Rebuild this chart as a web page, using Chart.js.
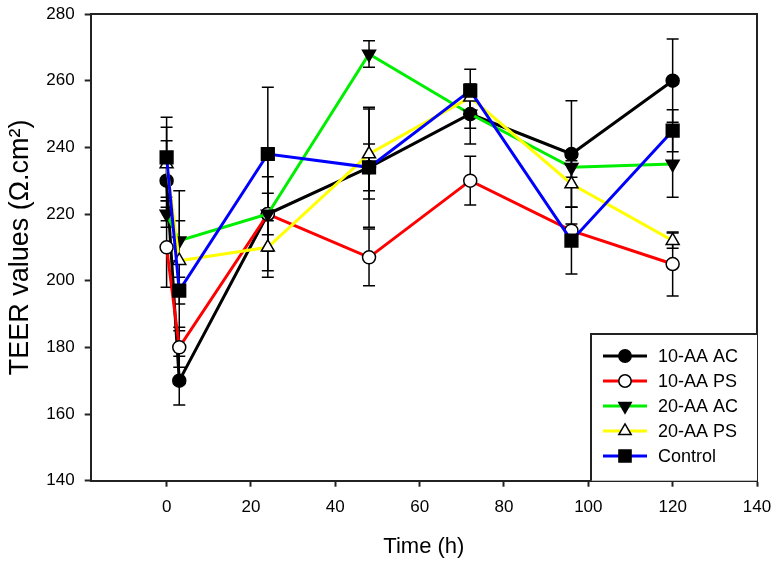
<!DOCTYPE html>
<html>
<head>
<meta charset="utf-8">
<script src="https://cdn.jsdelivr.net/npm/chart.js@4"></script>
<style>
  body { margin: 0; background: #fff; }
  #wrap { width: 779px; height: 565px; }
</style>
</head>
<body>
<div id="wrap"><canvas id="teerChart" width="779" height="565"></canvas></div>
<script>
// time points (h)
var times = [0, 3, 24, 48, 72, 96, 120];
var xTicks = [0, 20, 40, 60, 80, 100, 120, 140];
var yTicks = [140, 160, 180, 200, 220, 240, 260, 280];

var labels = ['10-AA AC', '10-AA PS', '20-AA AC', '20-AA PS', 'Control'];

// TEER values
var aa10AC = [230, 170, 220, 234, 250, 238, 260];
var aa10PS = [210, 180, 220, 207, 230, 215, 205];
var aa20AC = [220, 212, 220, 268, 250, 234, 235];
var aa20PS = [235, 206, 210, 238, 255, 229, 212];
var control = [237, 197, 238, 234, 257, 212, 245];

// error bars (+/-)
var err10AC = [12, 7.3, 6.2, 18, 4.3, 16, 12.5];
var err10PS = [12, 6, 11.2, 8.5, 7.3, 2, 9.6];
var err20AC = [4, 6, 17, 4, 9, 3, 10];
var err20PS = [11, 21, 9, 13.5, 3.7, 7, 2.3];
var errCtrl = [12, 4, 20, 7, 6.4, 10, 6.3];

function pts(vals) {
    return vals.map(function (v, i) { return {x: times[i], y: v}; });
}

function makeSet(label, vals, errs, color, style, fill, rot, radius, order) {
    return {
        label: label,
        data: pts(vals),
        errors: errs,
        borderColor: color,
        backgroundColor: color,
        borderWidth: 3,
        pointStyle: style,
        pointRotation: rot,
        pointRadius: radius,
        pointBackgroundColor: fill,
        pointBorderColor: '#000',
        pointBorderWidth: 1.5,
        tension: 0,
        order: order
    };
}

var errorBars = {
    id: 'errorBars',
    beforeDatasetsDraw: function (chart) {
        var c = chart.ctx;
        var xs = chart.scales.x, ys = chart.scales.y;
        c.save();
        c.strokeStyle = '#000';
        c.lineWidth = 1.5;
        chart.data.datasets.forEach(function (ds) {
            ds.data.forEach(function (p, i) {
                var e = ds.errors[i];
                var px = xs.getPixelForValue(p.x);
                var top = ys.getPixelForValue(p.y + e);
                var bot = ys.getPixelForValue(p.y - e);
                c.beginPath();
                c.moveTo(px, top); c.lineTo(px, bot);
                c.moveTo(px - 6, top); c.lineTo(px + 6, top);
                c.moveTo(px - 6, bot); c.lineTo(px + 6, bot);
                c.stroke();
            });
        });
        c.restore();
    }
};

var frameAndLegend = {
    id: 'frameAndLegend',
    afterDraw: function (chart) {
        var c = chart.ctx;
        var a = chart.chartArea;
        c.save();
        c.strokeStyle = '#222';
        c.lineWidth = 2;
        c.beginPath();
        c.moveTo(a.left, a.top); c.lineTo(a.right, a.top); c.lineTo(a.right, a.bottom);
        c.stroke();

        // legend box in the lower right corner
        var bx = 591, by = 334;
        c.fillStyle = '#fff';
        c.fillRect(bx, by, a.right - bx, a.bottom - by);
        c.beginPath();
        c.moveTo(bx, a.bottom); c.lineTo(bx, by); c.lineTo(a.right, by);
        c.stroke();

        c.font = '18px "Liberation Sans", Arial, sans-serif';
        c.textBaseline = 'middle';
        c.textAlign = 'left';
        chart.data.datasets.forEach(function (ds, i) {
            var y = 356 + i * 25;
            c.strokeStyle = ds.borderColor;
            c.lineWidth = 3;
            c.beginPath(); c.moveTo(603, y); c.lineTo(647, y); c.stroke();
            c.fillStyle = ds.pointBackgroundColor;
            c.strokeStyle = '#000';
            c.lineWidth = 1.5;
            Chart.helpers.drawPoint(c, {pointStyle: ds.pointStyle, rotation: ds.pointRotation,
                radius: ds.pointRadius * 0.95, borderWidth: 1.5}, 625, y);
            c.fillStyle = '#000';
            c.fillText(ds.label, 658, y + 1);
        });
        c.restore();
    }
};

var fam = '"Liberation Sans", Arial, sans-serif';

new Chart(document.getElementById('teerChart').getContext('2d'), {
    type: 'line',
    data: {
        datasets: [
            makeSet(labels[0], aa10AC, err10AC, '#000000', 'circle', '#000', 0, 6.5, 4),
            makeSet(labels[1], aa10PS, err10PS, '#ff0000', 'circle', '#fff', 0, 6.5, 3),
            makeSet(labels[2], aa20AC, err20AC, '#00ee00', 'triangle', '#000', 180, 7.5, 2),
            makeSet(labels[3], aa20PS, err20PS, '#ffff00', 'triangle', '#fff', 0, 7.5, 1),
            makeSet(labels[4], control, errCtrl, '#0000ff', 'rect', '#000', 0, 9, 0)
        ]
    },
    options: {
        responsive: false,
        animation: false,
        layout: {padding: {top: 14, right: 22, left: 0, bottom: 0}},
        plugins: {legend: {display: false}, tooltip: {enabled: false}},
        scales: {
            x: {
                type: 'linear',
                min: -18,
                max: 140,
                afterBuildTicks: function (s) { s.ticks = xTicks.map(function (v) { return {value: v}; }); },
                afterFit: function (s) { s.height = 84.3; },
                grid: {drawOnChartArea: false, drawTicks: true, tickLength: 6, tickColor: '#222', tickWidth: 2},
                border: {color: '#222', width: 2},
                ticks: {color: '#000', font: {family: fam, size: 17, lineHeight: 1.9}, padding: 4, maxRotation: 0},
                title: {display: true, text: 'Time (h)', color: '#000',
                    font: {family: fam, size: 22, lineHeight: 1},
                    padding: {top: 0, bottom: 7}}
            },
            y: {
                min: 140,
                max: 280,
                afterBuildTicks: function (s) { s.ticks = yTicks.map(function (v) { return {value: v}; }); },
                afterFit: function (s) { s.width = 90.7; },
                grid: {drawOnChartArea: false, drawTicks: true, tickLength: 6, tickColor: '#222', tickWidth: 2},
                border: {color: '#222', width: 2},
                ticks: {color: '#000', font: {family: fam, size: 17, lineHeight: 0.4}, padding: 10},
                title: {display: true, text: 'TEER values (Ω.cm²)', color: '#000',
                    font: {family: fam, size: 27, lineHeight: 1},
                    padding: {top: 7, bottom: 0}}
            }
        }
    },
    plugins: [errorBars, frameAndLegend]
});
</script>
</body>
</html>
